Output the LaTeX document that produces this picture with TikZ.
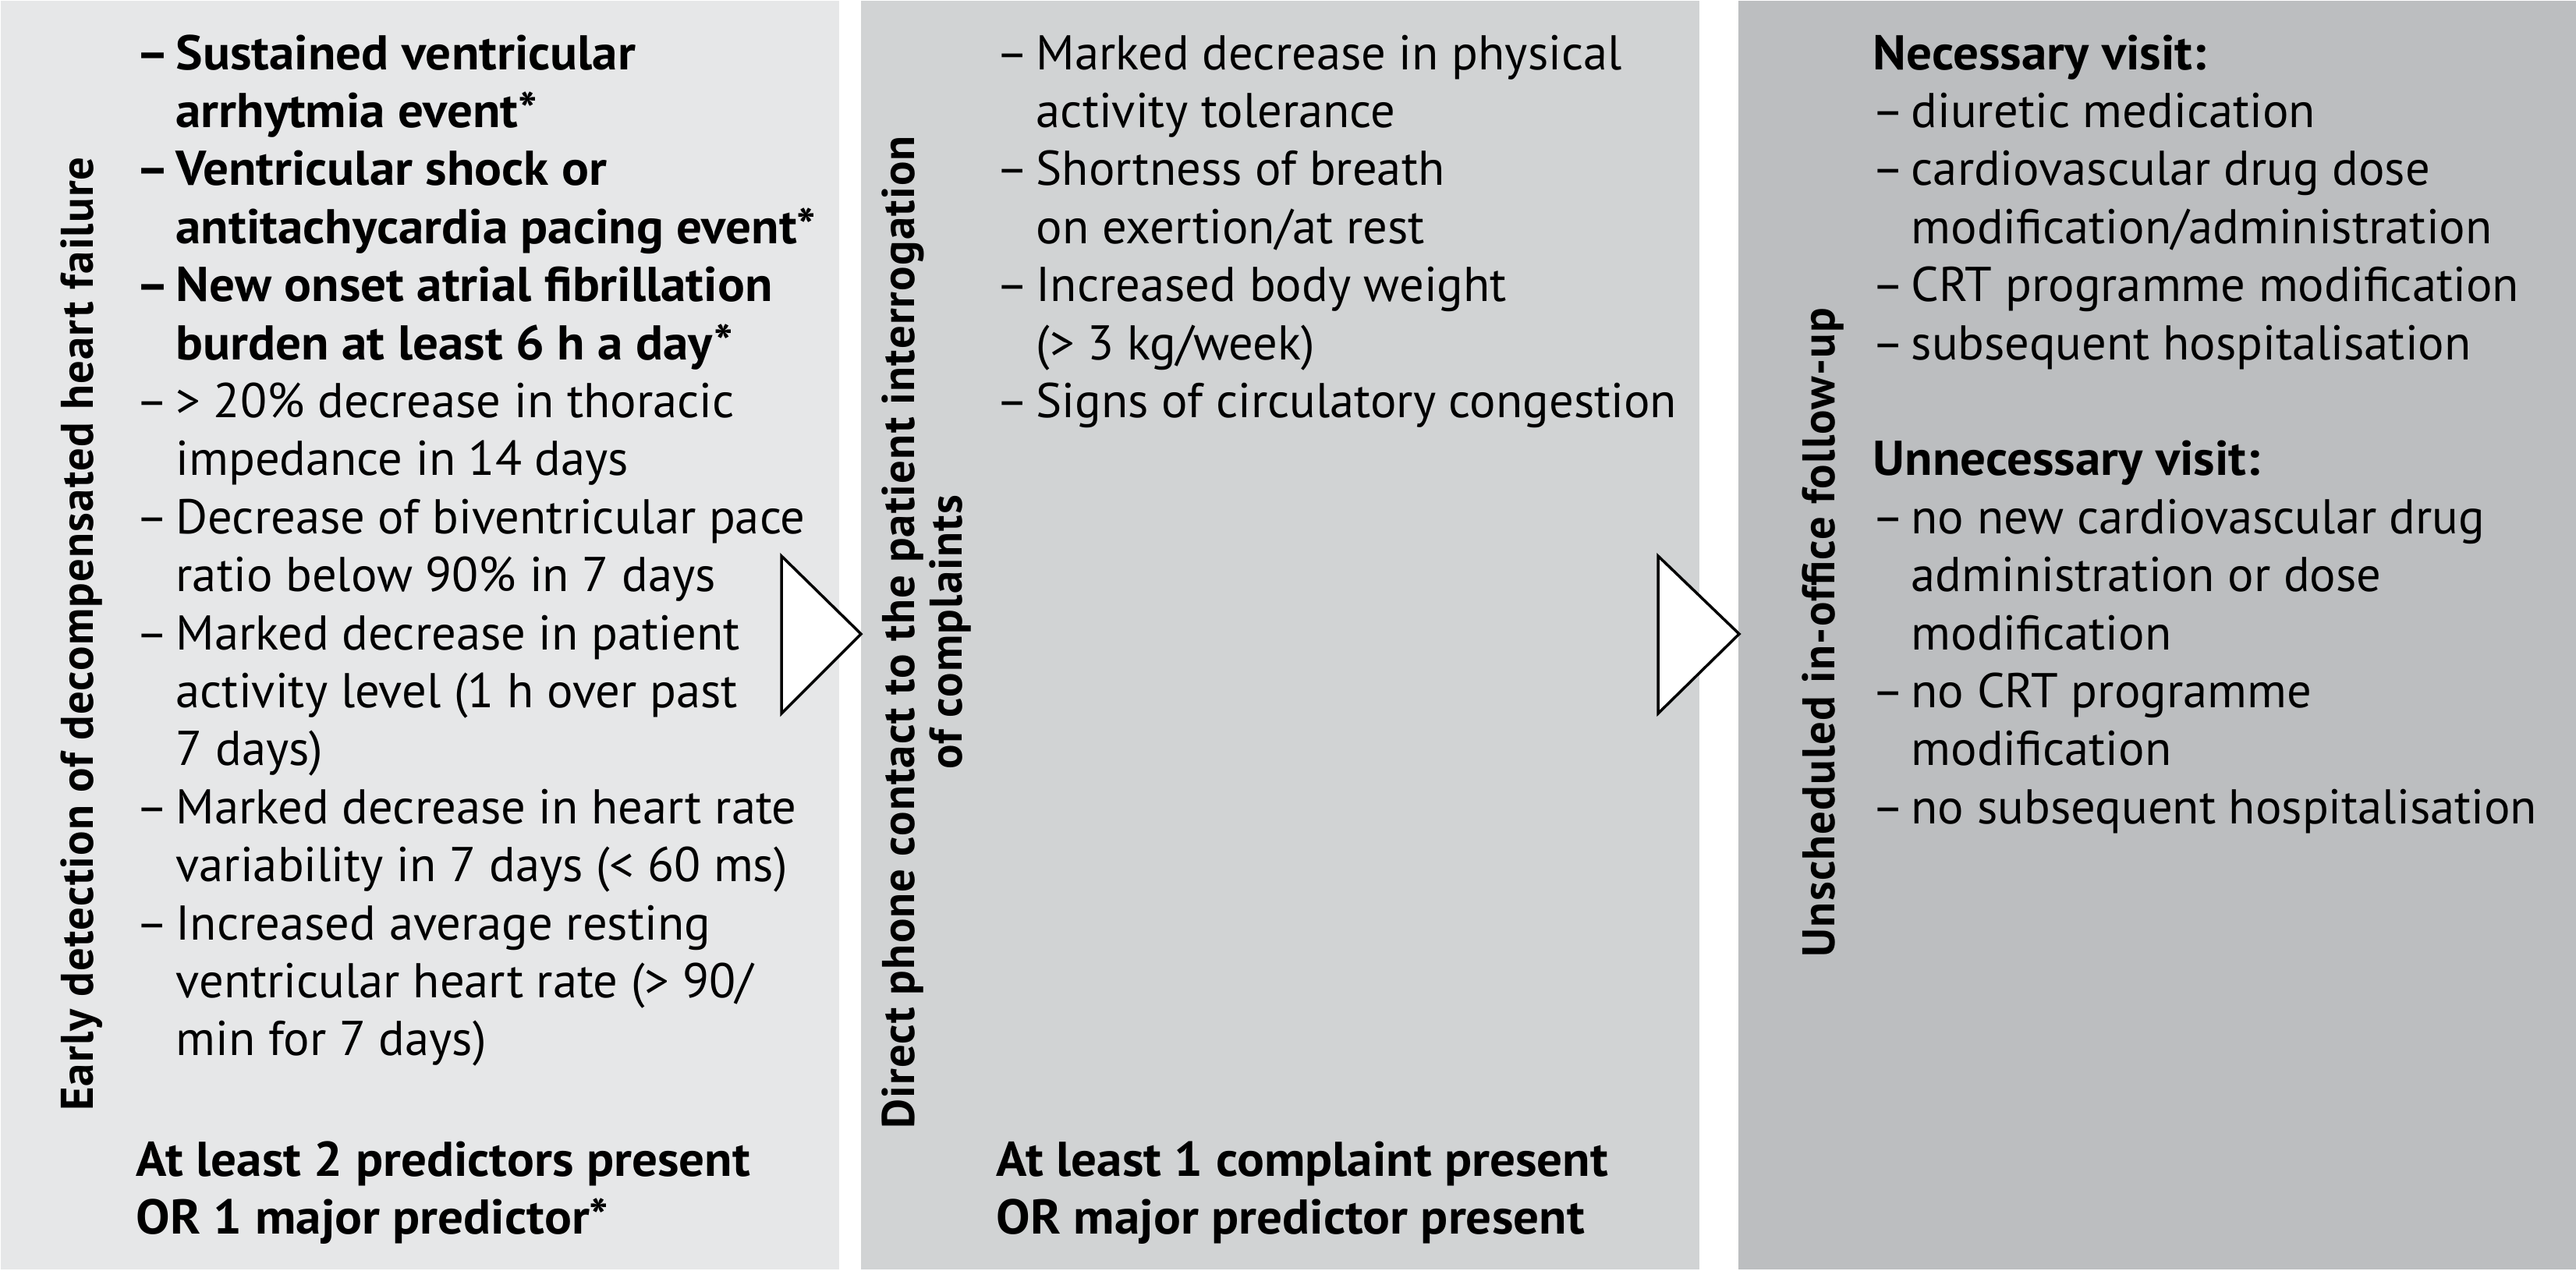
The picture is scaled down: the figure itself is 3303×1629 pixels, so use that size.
\documentclass[tikz,border=0pt]{standalone}
\usepackage{fontspec}
\setmainfont{PT Sans}[BoldFeatures={FakeStretch=1.04}]
\newfontfamily\titlefnt{PT Sans}[LetterSpace=2]
\definecolor{pone}{HTML}{E6E7E8}
\definecolor{ptwo}{HTML}{D1D3D4}
\definecolor{pthree}{HTML}{BCBEC0}
\begin{document}
\begin{tikzpicture}[x=0.01cm,y=-0.01cm,
  panel/.style={anchor=north west, inner sep=0pt, draw=none, minimum width=10.75cm, minimum height=16.26cm},
  body/.style={anchor=base west, inner sep=0pt, font=\fontsize{17.8}{21}\selectfont},
  bodyb/.style={body, font=\fontsize{17.8}{21}\selectfont\bfseries},
  ttl/.style={rotate=90, anchor=base, inner sep=0pt, font=\fontsize{16.7}{20}\selectfont\titlefnt\bfseries},
  tri/.style={draw=black, fill=white, line width=0.035cm, line join=miter}]
\useasboundingbox (0,0) rectangle (3303,1629);
\fill[white] (0,0) rectangle (3303,1629);
\node[panel, fill=pone] (P1) at (0,0) {};
\node[panel, fill=ptwo] (P2) at (1103,0) {};
\node[panel, fill=pthree] (P3) at (2228,0) {};
% arrows
\draw[tri] (1002,713) -- (1002,915) -- (1104,813) -- cycle;
\draw[tri] (2126,713) -- (2126,915) -- (2230,813) -- cycle;
% titles
\node[ttl] (t1) at (119,813) {Early detection of decompensated heart failure};
\node[ttl] (t2a) at (1172,811) {Direct phone contact to the patient interrogation};
\node[ttl] (t2b) at (1233,811) {of complaints};
\node[ttl] (t3) at (2352,811) {Unscheduled in-office follow-up};
% panel 1
\node[bodyb] (d10) at (174,89.0) {–};
\node[bodyb] (a10) at (225,89.0) {Sustained ventricular};
\node[bodyb] (a11) at (225,163.4) {arrhytmia event*};
\node[bodyb] (d12) at (174,237.8) {–};
\node[bodyb] (a12) at (225,237.8) {Ventricular shock or};
\node[bodyb] (a13) at (225,312.2) {antitachycardia pacing event*};
\node[bodyb] (d14) at (174,386.6) {–};
\node[bodyb] (a14) at (225,386.6) {New onset atrial fibrillation};
\node[bodyb] (a15) at (225,461.0) {burden at least 6 h a day*};
\node[body] (d16) at (174,535.4) {–};
\node[body] (a16) at (225,535.4) {> 20\% decrease in thoracic};
\node[body] (a17) at (225,609.8) {impedance in 14 days};
\node[body] (d18) at (174,684.2) {–};
\node[body] (a18) at (225,684.2) {Decrease of biventricular pace};
\node[body] (a19) at (225,758.6) {ratio below 90\% in 7 days};
\node[body] (d110) at (174,833.0) {–};
\node[body] (a110) at (225,833.0) {Marked decrease in patient};
\node[body] (a111) at (225,907.4) {activity level (1 h over past};
\node[body] (a112) at (225,981.8) {7 days)};
\node[body] (d113) at (174,1056.2) {–};
\node[body] (a113) at (225,1056.2) {Marked decrease in heart rate};
\node[body] (a114) at (225,1130.6) {variability in 7 days (< 60 ms)};
\node[body] (d115) at (174,1205.0) {–};
\node[body] (a115) at (225,1205.0) {Increased average resting};
\node[body] (a116) at (225,1279.4) {ventricular heart rate (> 90/};
\node[body] (a117) at (225,1353.8) {min for 7 days)};
\node[bodyb] (s1a) at (174,1508) {At least 2 predictors present};
\node[bodyb] (s1b) at (174,1582) {OR 1 major predictor*};
% panel 2
\node[body] (d20) at (1277,89.0) {–};
\node[body] (a20) at (1328,89.0) {Marked decrease in physical};
\node[body] (a21) at (1328,163.4) {activity tolerance};
\node[body] (d22) at (1277,237.8) {–};
\node[body] (a22) at (1328,237.8) {Shortness of breath};
\node[body] (a23) at (1328,312.2) {on exertion/at rest};
\node[body] (d24) at (1277,386.6) {–};
\node[body] (a24) at (1328,386.6) {Increased body weight};
\node[body] (a25) at (1328,461.0) {(> 3 kg/week)};
\node[body] (d26) at (1277,535.4) {–};
\node[body] (a26) at (1328,535.4) {Signs of circulatory congestion};
\node[bodyb] (s2a) at (1277,1508) {At least 1 complaint present};
\node[bodyb] (s2b) at (1277,1582) {OR major predictor present};
% panel 3
\node[bodyb] (a30) at (2401,89.0) {Necessary visit:};
\node[body] (d31) at (2400,163.4) {–};
\node[body] (a31) at (2450,163.4) {diuretic medication};
\node[body] (d32) at (2400,237.8) {–};
\node[body] (a32) at (2450,237.8) {cardiovascular drug dose};
\node[body] (a33) at (2450,312.2) {modification/administration};
\node[body] (d34) at (2400,386.6) {–};
\node[body] (a34) at (2450,386.6) {CRT programme modification};
\node[body] (d35) at (2400,461.0) {–};
\node[body] (a35) at (2450,461.0) {subsequent hospitalisation};
\node[bodyb] (a37) at (2401,609.8) {Unnecessary visit:};
\node[body] (d38) at (2400,684.2) {–};
\node[body] (a38) at (2450,684.2) {no new cardiovascular drug};
\node[body] (a39) at (2450,758.6) {administration or dose};
\node[body] (a310) at (2450,833.0) {modification};
\node[body] (d311) at (2400,907.4) {–};
\node[body] (a311) at (2450,907.4) {no CRT programme};
\node[body] (a312) at (2450,981.8) {modification};
\node[body] (d313) at (2400,1056.2) {–};
\node[body] (a313) at (2450,1056.2) {no subsequent hospitalisation};
\end{tikzpicture}
\end{document}
